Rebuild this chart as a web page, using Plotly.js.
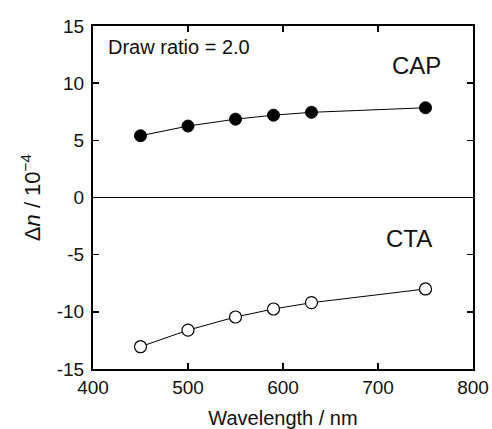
<!DOCTYPE html>
<html>
<head>
<meta charset="utf-8">
<script src="https://cdn.plot.ly/plotly-3.0.1.min.js"></script>
<style>html,body{margin:0;padding:0;background:#fff}#chart{width:492px;height:429px}</style>
</head>
<body>
<div id="chart"></div>
<script>
const wavelength = [450, 500, 550, 590, 630, 750];
const capValues = [5.4, 6.25, 6.85, 7.2, 7.45, 7.85];
const ctaValues = [-13.05, -11.6, -10.45, -9.75, -9.2, -8.0];
const xTicks = [400, 500, 600, 700, 800];
const yTicks = [-15, -10, -5, 0, 5, 10, 15];

const font = "Liberation Sans, Arial, sans-serif";

const traces = [
  {
    x: wavelength, y: capValues, type: 'scatter', mode: 'lines+markers',
    line: {color: '#000', width: 1},
    marker: {symbol: 'circle', size: 12, color: '#000', line: {color: '#000', width: 1}},
    name: 'CAP', showlegend: false
  },
  {
    x: wavelength, y: ctaValues, type: 'scatter', mode: 'lines+markers',
    line: {color: '#000', width: 1},
    marker: {symbol: 'circle', size: 12, color: '#fff', line: {color: '#000', width: 1.2}},
    name: 'CTA', showlegend: false
  }
];

const layout = {
  width: 492, height: 429,
  margin: {l: 93, r: 19, t: 26, b: 60},
  paper_bgcolor: '#fff', plot_bgcolor: '#fff',
  font: {family: font, color: '#111', size: 19},
  xaxis: {
    range: [400, 800], tickvals: xTicks, ticktext: xTicks.map(String),
    ticks: 'inside', ticklen: 6, tickwidth: 1.5, tickcolor: '#000',
    showline: true, linecolor: '#000', linewidth: 2, mirror: 'ticks',
    showgrid: false, zeroline: false,
    tickfont: {size: 19, family: font},
    title: {text: 'Wavelength / nm', font: {size: 20, family: font}, standoff: 16}
  },
  yaxis: {
    range: [-15, 15], tickvals: yTicks, ticktext: yTicks.map(String),
    ticks: 'inside', ticklen: 6, tickwidth: 1.5, tickcolor: '#000',
    showline: true, linecolor: '#000', linewidth: 2, mirror: 'ticks',
    showgrid: false, zeroline: true, zerolinecolor: '#000', zerolinewidth: 1.2,
    ticklabelstandoff: 3,
    tickfont: {size: 19, family: font},
    title: {text: 'Δ<i>n</i> / 10<sup>−4</sup>', font: {size: 22, family: font}, standoff: 10}
  },
  annotations: [
    {xref: 'paper', yref: 'paper', x: 0.035, y: 0.94, xanchor: 'left', yanchor: 'middle',
     text: 'Draw ratio = 2.0', showarrow: false, font: {size: 20, family: font, color: '#111'}},
    {xref: 'x', yref: 'y', x: 740, y: 11.55, xanchor: 'center', yanchor: 'middle',
     text: 'CAP', showarrow: false, font: {size: 24, family: font, color: '#111'}},
    {xref: 'x', yref: 'y', x: 733, y: -3.55, xanchor: 'center', yanchor: 'middle',
     text: 'CTA', showarrow: false, font: {size: 24, family: font, color: '#111'}}
  ]
};

Plotly.newPlot('chart', traces, layout, {displayModeBar: false, staticPlot: true});
</script>
</body>
</html>
